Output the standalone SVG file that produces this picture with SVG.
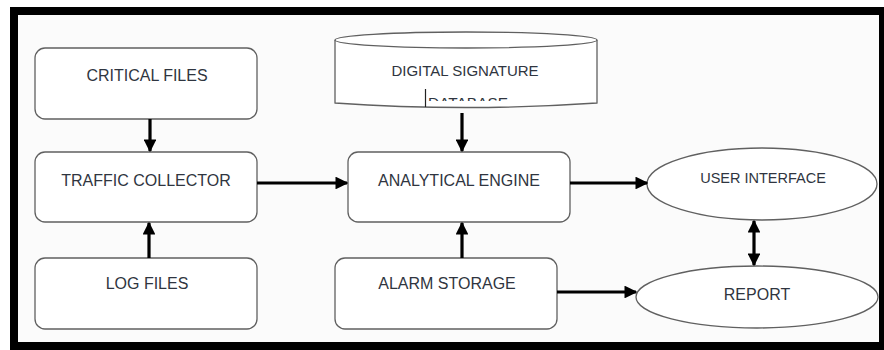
<svg xmlns="http://www.w3.org/2000/svg" width="884" height="350" viewBox="0 0 884 350">
<style>
.box{fill:#ffffff;stroke:#606060;stroke-width:1.3}
.lbl{font-family:"Liberation Sans",Arial,sans-serif;fill:#2f3540;text-anchor:middle}
.con{stroke:#000;stroke-width:3.2;fill:none}
</style>
<defs>
<marker id="ah" viewBox="0 0 10 10" refX="9" refY="5" markerWidth="4" markerHeight="4" orient="auto-start-reverse" markerUnits="strokeWidth">
<path d="M0,0 L10,5 L0,10 Z" fill="#000"/>
</marker>
<clipPath id="cylclip"><rect x="336" y="40" width="260" height="61"/></clipPath>
</defs>
<rect x="0" y="0" width="884" height="350" fill="#ffffff"/>
<rect x="18" y="15" width="861" height="327" fill="#fbfbfb"/>
<g id="frame" fill="#000">
<rect x="10" y="7" width="874" height="8"/>
<rect x="10" y="7" width="8" height="343"/>
<rect x="10" y="342" width="874" height="8"/>
<rect x="879" y="7" width="5" height="343"/>
</g>
<g id="critical-files"><rect class="box" x="35" y="48" width="222" height="71" rx="10"/><text class="lbl" x="147" y="81" font-size="16">CRITICAL FILES</text></g>
<g id="traffic-collector"><rect class="box" x="35" y="152" width="222" height="70" rx="10"/><text class="lbl" x="146" y="186" font-size="16">TRAFFIC COLLECTOR</text></g>
<g id="log-files"><rect class="box" x="35" y="258" width="222" height="71" rx="10"/><text class="lbl" x="147" y="289" font-size="16">LOG FILES</text></g>
<g id="database">
<path class="box" d="M335,40 L335,103 Q466,112 597,103 L597,40"/>
<ellipse class="box" cx="466" cy="40" rx="131" ry="8"/>
<text class="lbl" x="465" y="76" font-size="15">DIGITAL SIGNATURE</text>
<g clip-path="url(#cylclip)"><text class="lbl" x="468" y="108" font-size="15" textLength="80" lengthAdjust="spacingAndGlyphs">DATABASE</text></g>
<line x1="425.5" y1="89" x2="425.5" y2="107" stroke="#222" stroke-width="1.2"/>
</g>
<g id="analytical-engine"><rect class="box" x="348" y="152" width="222" height="70" rx="10"/><text class="lbl" x="459" y="186" font-size="16">ANALYTICAL ENGINE</text></g>
<g id="alarm-storage"><rect class="box" x="335" y="258" width="222" height="71" rx="10"/><text class="lbl" x="447" y="289" font-size="16">ALARM STORAGE</text></g>
<g id="user-interface"><ellipse class="box" cx="762" cy="184" rx="115" ry="36"/><text class="lbl" x="763" y="183" font-size="14.5">USER INTERFACE</text></g>
<g id="report"><ellipse class="box" cx="757" cy="297" rx="121" ry="31"/><text class="lbl" x="757" y="300" font-size="16">REPORT</text></g>
<g id="connectors">
<line class="con" x1="150" y1="119" x2="150" y2="151" marker-end="url(#ah)"/>
<line class="con" x1="149" y1="258" x2="149" y2="223" marker-end="url(#ah)"/>
<line class="con" x1="462" y1="113" x2="462" y2="151" marker-end="url(#ah)"/>
<line class="con" x1="462" y1="258" x2="462" y2="223" marker-end="url(#ah)"/>
<line class="con" x1="257" y1="183" x2="347" y2="183" marker-end="url(#ah)"/>
<line class="con" x1="570" y1="183" x2="647" y2="183" marker-end="url(#ah)"/>
<line class="con" x1="557" y1="292" x2="636" y2="292" marker-end="url(#ah)"/>
<line class="con" x1="754" y1="221" x2="754" y2="265" marker-start="url(#ah)" marker-end="url(#ah)"/>
</g>
</svg>
